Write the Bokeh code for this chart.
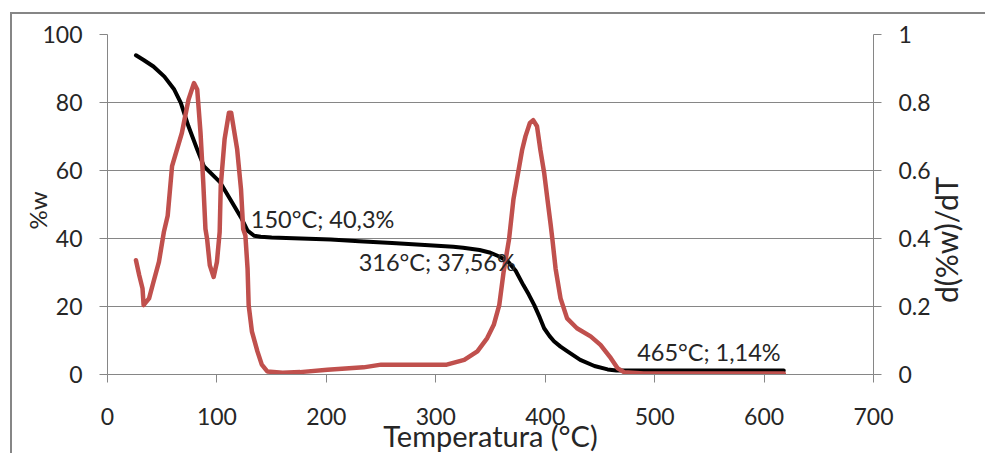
import math
from bokeh.plotting import figure
from bokeh.models import (Range1d, LinearAxis, FixedTicker, Label, NumeralTickFormatter,
                          CustomJSTickFormatter)
from bokeh.embed import file_html
from bokeh.resources import INLINE

# ---------------- data ----------------
# TGA curve (% weight, left axis)
tga_temp = [26, 33, 42, 52, 61, 67, 74, 82, 88, 97, 103, 112, 122, 128, 134, 140, 150, 170,
            204, 230, 260, 290, 316, 325, 340, 350, 358, 366, 373, 380, 385, 390, 395, 399,
            404, 408, 414, 420, 432, 445, 457, 465, 480, 540, 618]
tga_w = [93.9, 92.5, 90.6, 87.6, 83.8, 79.9, 73.0, 66.2, 61.3, 58.4, 56.5, 51.6, 46.2, 42.3,
         40.8, 40.5, 40.3, 40.1, 39.7, 39.2, 38.7, 38.1, 37.56, 37.3, 36.6, 35.8, 34.7, 33.2,
         30.5, 26.3, 23.5, 20.4, 16.8, 13.6, 11.3, 9.8, 8.2, 6.9, 4.3, 2.5, 1.5, 1.2, 1.14,
         1.14, 1.14]

# DTG curve (d(%w)/dT, right axis)
dtg_temp = [26, 29, 32, 33, 38, 42, 47, 51.5, 55, 59, 68, 74, 79, 82, 85, 87.5, 89.5, 91,
            93.5, 97, 100, 102.5, 103.5, 107, 111, 113, 118.5, 122, 124, 126, 128, 129, 132,
            137, 141, 146, 160, 176, 201, 234, 250, 310, 326, 338, 347, 353, 358, 362, 367,
            371, 379, 382, 386, 389, 392.5, 395.5, 399, 402, 405, 406.5, 409.5, 414, 420, 429,
            441.5, 450.5, 460, 466, 472, 490, 550, 618]
dtg_v = [0.336, 0.292, 0.253, 0.204, 0.224, 0.272, 0.331, 0.419, 0.467, 0.613, 0.711, 0.808,
         0.857, 0.838, 0.711, 0.565, 0.428, 0.399, 0.321, 0.287, 0.331, 0.419, 0.555, 0.692,
         0.77, 0.77, 0.662, 0.545, 0.428, 0.409, 0.311, 0.204, 0.126, 0.068, 0.029, 0.009,
         0.005, 0.007, 0.014, 0.021, 0.029, 0.029, 0.043, 0.068, 0.107, 0.146, 0.204, 0.302,
         0.399, 0.516, 0.662, 0.701, 0.74, 0.748, 0.73, 0.662, 0.594, 0.516, 0.44, 0.399,
         0.311, 0.224, 0.165, 0.136, 0.112, 0.087, 0.048, 0.019, 0.007, 0.003, 0.003, 0.003]

x_ticks = [0, 100, 200, 300, 400, 500, 600, 700]
w_ticks = [0, 20, 40, 60, 80, 100]
d_ticks = [0, 0.2, 0.4, 0.6, 0.8, 1.0]

annotations = ["150°C; 40,3%", "316°C; 37,56%", "465°C; 1,14%"]

x_title = "Temperatura (°C)"
left_title = "%w"
right_title = "d(%w)/dT"

# ---------------- style ----------------
FONT = "Lato"
GRID = "#868686"
TXT = "#262626"
RED = "#C0504D"
NBSP = "\u00a0"

p = figure(width=975, height=441, x_range=Range1d(0, 700), y_range=Range1d(0, 100),
           output_backend="svg", toolbar_location=None,
           min_border_left=95, min_border_right=114, min_border_top=20, min_border_bottom=79)
p.margin = (12, 0, 0, 10)
p.styles = {"border-left": "2px solid #868686", "border-top": "2px solid #868686"}
p.outline_line_color = None
p.background_fill_color = "white"
p.border_fill_color = "white"

p.extra_y_ranges = {"dtg": Range1d(0, 1)}

def style_axis(ax):
    ax.axis_line_color = GRID
    ax.axis_line_width = 1
    ax.major_tick_line_color = GRID
    ax.major_tick_out = 8
    ax.major_tick_in = 0
    ax.minor_tick_line_color = None
    ax.major_label_text_font = FONT
    ax.major_label_text_font_size = "23px"
    ax.major_label_text_color = TXT
    ax.major_label_standoff = 17
    ax.axis_label_text_font = FONT
    ax.axis_label_text_font_style = "normal"
    ax.axis_label_text_color = TXT

xa = p.xaxis[0]
xa.ticker = FixedTicker(ticks=x_ticks)
style_axis(xa)
xa.major_label_standoff = 25
xa.axis_label = x_title
xa.axis_label_text_font_size = "29px"
xa.axis_label_standoff = -10

ya = p.yaxis[0]
ya.ticker = FixedTicker(ticks=w_ticks)
style_axis(ya)
ya.axis_label = left_title + NBSP * 2
ya.axis_label_text_font_size = "24px"
ya.axis_label_standoff = -13

# right numeric axis
ra = LinearAxis(y_range_name="dtg", ticker=FixedTicker(ticks=d_ticks),
                formatter=NumeralTickFormatter(format="0.[0]"))
style_axis(ra)
p.add_layout(ra, "right")

# outer right axis whose single rotated label is the title (reads bottom to top,
# starting at the anchor tick)
rt = LinearAxis(y_range_name="dtg", ticker=FixedTicker(ticks=[0.21]),
                formatter=CustomJSTickFormatter(args=dict(t=right_title), code="return t;"))
rt.axis_line_color = None
rt.major_tick_line_color = None
rt.minor_tick_line_color = None
rt.major_tick_out = 0
rt.major_tick_in = 0
rt.minor_tick_out = 0
rt.major_label_standoff = 13
rt.major_label_orientation = math.pi / 2
rt.major_label_text_font = FONT
rt.major_label_text_font_size = "30px"
rt.major_label_text_color = TXT
p.add_layout(rt, "right")

p.xgrid.visible = False
p.ygrid.ticker = FixedTicker(ticks=w_ticks)
p.ygrid.grid_line_color = GRID
p.ygrid.grid_line_width = 1

p.line(tga_temp, tga_w, line_color="black", line_width=4, line_join="round", line_cap="round")
p.line(dtg_temp, dtg_v, line_color=RED, line_width=4.5, line_join="round", line_cap="round",
       y_range_name="dtg")

ann_pos = [(131, 45.7), (229.5, 33.0), (484, 6.5)]
for txt, (ax_, ay_) in zip(annotations, ann_pos):
    p.add_layout(Label(x=ax_, y=ay_, text=txt, text_font=FONT, text_font_size="23.5px",
                       text_color=TXT, text_baseline="alphabetic", text_align="left"))

open("out.html", "w").write(file_html(p, INLINE))
